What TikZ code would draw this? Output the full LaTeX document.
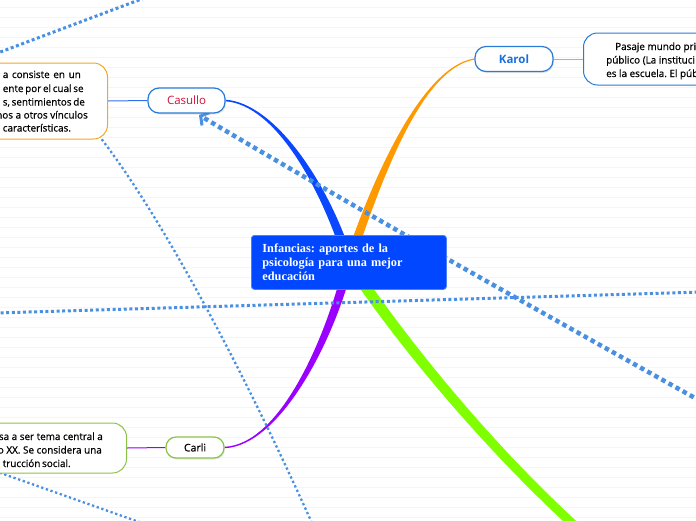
\documentclass[tikz,border=0pt]{standalone}
\usepackage{fontspec}
\setmainfont{Open Sans}
\newfontfamily\titlefont{Liberation Serif}
\usetikzlibrary{calc,arrows.meta,shadows}
\pgfdeclarelayer{bg}
\pgfsetlayers{bg,main}
\definecolor{mainblue}{HTML}{0047FF}
\definecolor{brblue}{HTML}{0A47FF}
\definecolor{orangeb}{HTML}{FF9900}
\definecolor{purpleb}{HTML}{9900FF}
\definecolor{greenb}{HTML}{80FF00}
\definecolor{dotblue}{HTML}{4A90E2}
\definecolor{boxblue}{HTML}{2A7BD6}
\definecolor{boxorange}{HTML}{F5A623}
\definecolor{boxgreen}{HTML}{8BC34A}
\definecolor{crimsonc}{HTML}{D0103A}
\definecolor{karolblue}{HTML}{1A6FE0}
\definecolor{thinblue}{HTML}{2F6FEF}
\newcommand{\branch}[7]{%
 \fill[#1] ($(#2)!#6!90:(#3)$) .. controls ($(#3)!#6!-90:(#2)$) and ($(#4)!#7!90:(#5)$) .. ($(#5)!#7!-90:(#4)$)
 -- ($(#5)!#7!90:(#4)$) .. controls ($(#4)!#7!-90:(#5)$) and ($(#3)!#6!90:(#2)$) .. ($(#2)!#6!-90:(#3)$) -- cycle;}
\newcommand{\fitline}[2]{\makebox[#1][s]{#2}}
\frenchspacing
\begin{document}
\begin{tikzpicture}[x=1pt,y=-1pt,
  pill/.style={draw, line width=1.2pt, fill=white, rounded corners=11pt, inner sep=0pt,
     drop shadow={shadow xshift=1pt, shadow yshift=-1.5pt, opacity=0.2}},
  detailbox/.style={draw, line width=1pt, fill=white, rounded corners=14pt, inner sep=0pt},
  dtext/.style={inner sep=0pt, font=\addfontfeature{FakeBold=0.7}\fontsize{9.9}{13.5}\selectfont},
  dotline/.style={dotblue, line width=3pt, dash pattern=on 3pt off 2.6pt},
  thickdot/.style={dotblue, line width=4.5pt, dash pattern=on 4.5pt off 3.6pt},
  thindot/.style={dotblue, line width=2.3pt, dash pattern=on 2.3pt off 2.6pt},
  link/.style={line width=1pt}]
\useasboundingbox (0,0) rectangle (696,520);
\clip (0,0) rectangle (696,520);

% central topic
\node[anchor=north west, fill=mainblue, draw=mainblue!70!white, line width=0.8pt, rounded corners=3pt,
  minimum width=195pt, minimum height=54pt, text width=173pt, inner xsep=11pt, align=left, text=white,
  font=\titlefont\bfseries\fontsize{12.3}{14}\selectfont] (c) at (251,235)
  {Infancias: aportes de la\\psicología para una mejor\\educación};

% main topics
\node[pill, draw=boxblue, minimum width=78pt, minimum height=25pt, text=karolblue,
  font=\bfseries\fontsize{11.5}{14}\selectfont] (karol) at (514,59) {Karol};
\node[pill, draw=boxblue, minimum width=77pt, minimum height=25pt, text=crimsonc,
  font=\fontsize{11.5}{14}\selectfont] (casullo) at (186.5,100.5) {Casullo};
\node[pill, draw=boxgreen, minimum width=58pt, minimum height=21pt, rounded corners=10pt,
  font=\addfontfeature{FakeBold=0.5}\fontsize{10.5}{13}\selectfont] (carli) at (195,447.5) {Carli};

% detail boxes
\node[detailbox, draw=boxblue, anchor=west, minimum height=52pt, minimum width=150pt] (kdet) at (583,59) {};
\node[dtext, anchor=base west] (kd1) at (615,50) {Pasaje mundo pri};
\node[dtext, anchor=base west] (kd2) at (606,63.5) {público (La instituci};
\node[dtext, anchor=base west] (kd3) at (606,77) {es la escuela. El púb};

\node[detailbox, draw=boxorange, anchor=east, minimum height=76pt, minimum width=150pt] (cdet) at (108,101) {};
\node[dtext, anchor=base east] (cd1) at (81,78) {\fitline{78pt}{a consiste en un}};
\node[dtext, anchor=base east] (cd2) at (82,92) {\fitline{79pt}{ente por el cual se}};
\node[dtext, anchor=base east] (cd3) at (84,105.5) {\fitline{81pt}{s, sentimientos de}};
\node[dtext, anchor=base east] (cd4) at (88,118.5) {nos a otros vínculos};
\node[dtext, anchor=base east] (cd5) at (65,131.5) {\fitline{62pt}{características.}};

\node[detailbox, draw=boxgreen, anchor=east, minimum height=50pt, minimum width=150pt] (ldet) at (127,448) {};
\node[dtext, anchor=base east] (ld1) at (103,440) {sa a ser tema central a};
\node[dtext, anchor=base east] (ld2) at (102,453.5) {o XX. Se considera una};
\node[dtext, anchor=base east] (ld3) at (66,467) {\fitline{63pt}{trucción social.}};

% free ends of connectors
\coordinate (gend) at (585,535);
\coordinate (castip) at (199,115);
\coordinate (casfar) at (722,413);
\coordinate (cdtip) at (96,132);
\coordinate (cdfar) at (316,532);
\coordinate (hl) at (-5,313);
\coordinate (hr) at (702,292);
\coordinate (tl1) at (-5,54);
\coordinate (tl2) at (147,-3);
\coordinate (bl1) at (-5,471);
\coordinate (bl2) at (142,523);

\begin{pgfonlayer}{bg}
  \foreach \yy in {7,17,...,517} \draw[black!4, line width=0.6pt] (0,\yy) -- (696,\yy);
  % branches
  \coordinate (b1) at (325,185); \coordinate (b2) at (275,104);
  \branch{brblue}{c.center}{b1}{b2}{casullo.east}{4.5pt}{0.8pt}
  \coordinate (o1) at (375,185); \coordinate (o2) at (420,68);
  \branch{orangeb}{c.center}{o1}{o2}{karol.west}{4.5pt}{0.6pt}
  \coordinate (p1) at (330,340); \coordinate (p2) at (280,445);
  \branch{purpleb}{c.center}{p1}{p2}{carli.east}{4.5pt}{0.7pt}
  \coordinate (g1) at (400,340); \coordinate (g2) at (490,450);
  \branch{greenb}{c.center}{g1}{g2}{gend}{5.5pt}{4.5pt}
  % links to details
  \draw[link, thinblue] (cdet.east) -- (casullo.west);
  \draw[link, boxorange] (karol.east) -- (kdet.west);
  \draw[link, purpleb] (ldet.east) -- (carli.west);
  % relationship lines
  \draw[dotline] (tl1) -- (tl2);
  \draw[dotline] (hl) -- (hr);
  \draw[thindot] (bl1) -- (bl2);
  \draw[thickdot, -{Straight Barb[length=6pt,width=15pt,line width=3pt]}]
     (casfar) .. controls (450,262) and (300,175) .. (castip);
  \draw[thindot, -{Straight Barb[length=3pt,width=8pt,line width=1.6pt]}]
     (cdfar) .. controls (230,340) and (150,200) .. (cdtip);
\end{pgfonlayer}
\end{tikzpicture}
\end{document}
